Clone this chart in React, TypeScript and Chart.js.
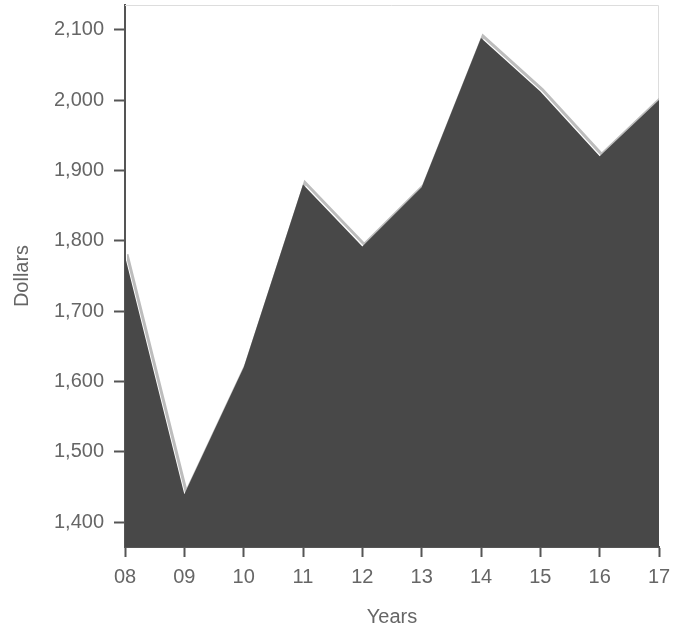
import React, { useEffect, useRef } from "react";
import { Chart, registerables } from "chart.js";

Chart.register(...registerables);

const years = ["08", "09", "10", "11", "12", "13", "14", "15", "16", "17"];
const dollars = [1778, 1440, 1620, 1880, 1792, 1876, 2088, 2012, 1920, 2000];
const yTicks = [1400, 1500, 1600, 1700, 1800, 1900, 2000, 2100];

export default function App() {
  const ref = useRef<HTMLCanvasElement | null>(null);

  useEffect(() => {
    if (!ref.current) return;
    const shadowPlugin = {
      id: "shadowOffset",
      beforeDatasetDraw(chart: any, args: any) {
        if (args.index === 1) {
          chart.ctx.save();
          chart.ctx.translate(2, -2);
        }
      },
      afterDatasetDraw(chart: any, args: any) {
        if (args.index === 1) chart.ctx.restore();
      },
      beforeDatasetsDraw(chart: any) {
        const { ctx, chartArea } = chart;
        ctx.save();
        ctx.strokeStyle = "#dddddd";
        ctx.lineWidth = 1;
        ctx.beginPath();
        ctx.moveTo(chartArea.left, chartArea.top + 0.5);
        ctx.lineTo(chartArea.right - 0.5, chartArea.top + 0.5);
        ctx.lineTo(chartArea.right - 0.5, chartArea.bottom);
        ctx.stroke();
        ctx.restore();
      },
    };
    const font = { family: "'Liberation Sans', Arial, sans-serif", size: 20 };
    const chart = new Chart(ref.current, {
      type: "line",
      data: {
        labels: years,
        datasets: [
          {
            data: dollars,
            fill: "start",
            backgroundColor: "#484848",
            borderWidth: 0,
            borderColor: "#484848",
            pointRadius: 0,
            tension: 0,
            order: 0,
          },
          {
            data: dollars,
            fill: false,
            borderColor: "#bdbdbd",
            borderWidth: 3,
            pointRadius: 0,
            tension: 0,
            order: 1,
            clip: { left: 0, top: 0, right: -2, bottom: 0 } as any,
          },
        ],
      },
      options: {
        animation: false,
        responsive: true,
        maintainAspectRatio: false,
        layout: { padding: { top: 5, right: 24, left: 0, bottom: 0 } },
        plugins: { legend: { display: false }, tooltip: { enabled: false } },
        scales: {
          x: {
            type: "category",
            offset: false,
            grid: {
              display: true,
              drawOnChartArea: false,
              drawTicks: true,
              tickLength: 10,
              tickColor: "#555555",
              tickWidth: 2,
            },
            border: { display: true, color: "#555555", width: 2 },
            ticks: { color: "#666666", font, padding: 8, maxRotation: 0 },
            title: {
              display: true,
              text: "Years",
              color: "#666666",
              font,
              padding: { top: 0, bottom: 1 },
            },
            afterFit(scale: any) {
              scale.height = 83;
            },
          },
          y: {
            type: "linear",
            min: 1365,
            max: 2135,
            grid: {
              display: true,
              drawOnChartArea: false,
              drawTicks: true,
              tickLength: 11,
              tickColor: "#555555",
              tickWidth: 2,
            },
            border: { display: true, color: "#555555", width: 2 },
            ticks: { color: "#666666", font, padding: 10 },
            afterBuildTicks(scale: any) {
              scale.ticks = yTicks.map((v) => ({ value: v }));
            },
            title: {
              display: true,
              text: "Dollars",
              color: "#666666",
              font,
              padding: { top: 10, bottom: 0 },
            },
            afterFit(scale: any) {
              scale.width = 125;
              scale.paddingTop = 0;
              scale.paddingBottom = 0;
            },
          },
        },
      },
      plugins: [shadowPlugin],
    });
    return () => chart.destroy();
  }, []);

  return (
    <div style={{ position: "fixed", left: 0, top: 0, width: 683, height: 630, background: "#fff" }}>
      <canvas ref={ref} />
    </div>
  );
}
